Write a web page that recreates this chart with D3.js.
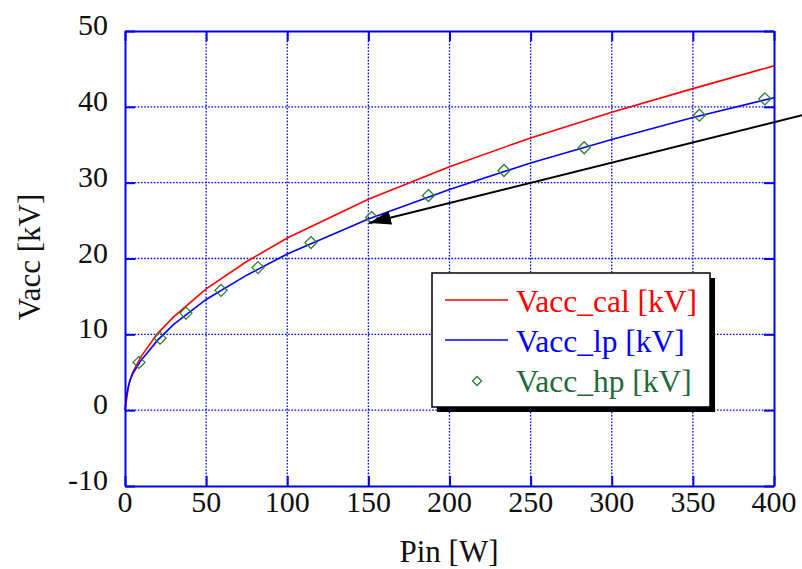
<!DOCTYPE html>
<html>
<head>
<meta charset="utf-8">
<script src="https://cdn.jsdelivr.net/npm/d3@7"></script>
<style>
  html, body { margin: 0; padding: 0; background: #fff; }
  svg { display: block; font-family: "Liberation Serif", "Times New Roman", serif; }
</style>
</head>
<body>
<svg id="chart" width="802" height="569"></svg>
<script>
// ---- data ----
const pinCal = [0, 1, 2, 3, 5, 10, 20, 30, 50, 75, 100, 150, 200, 250, 300, 350, 400];
const vaccCal = [0, 1.5, 3.0, 3.9, 5.1, 7.1, 10.1, 12.3, 16.0, 19.6, 22.7, 27.8, 32.1, 35.9, 39.3, 42.4, 45.4];
const pinLp = [0, 0.5, 1, 2, 3, 5, 10, 20, 30, 50, 75, 100, 150, 200, 250, 300, 350, 400];
const vaccLp = [0, 1.0, 2.0, 3.0, 3.9, 4.9, 6.6, 9.2, 11.3, 14.6, 17.8, 20.6, 25.2, 29.1, 32.6, 35.7, 38.6, 41.2];
const pinHp = [8.6, 21.6, 37.6, 59.2, 82, 114.6, 152, 187, 233.6, 283, 354, 394.4];
const vaccHp = [6.3, 9.5, 12.8, 15.8, 18.8, 22.1, 25.4, 28.3, 31.6, 34.6, 38.9, 41.05];
const xTicks = [0, 50, 100, 150, 200, 250, 300, 350, 400];
const yTicks = [-10, 0, 10, 20, 30, 40, 50];
const legendLabels = ["Vacc_cal [kV]", "Vacc_lp [kV]", "Vacc_hp [kV]"];
const xTitle = "Pin [W]";
const yTitle = "Vacc [kV]";

// ---- layout ----
const svg = d3.select("#chart");
const L = 125, R = 774, T = 31, B = 486;
const x = d3.scaleLinear().domain([0, 400]).range([L, R]);
const y = d3.scaleLinear().domain([-10, 50]).range([B, T]);
const BLUE = "#0000ff", RED = "#ff0000", GREEN = "#2e7d32";

// grid (dotted)
const grid = svg.append("g");
grid.selectAll("line.gx").data(xTicks.slice(1, -1)).join("line")
  .attr("x1", d => x(d)).attr("x2", d => x(d)).attr("y1", T).attr("y2", B)
  .attr("stroke", BLUE).attr("stroke-width", 1.3).attr("stroke-dasharray", "1.6,1.6");
grid.selectAll("line.gy").data(yTicks.slice(1, -1)).join("line")
  .attr("x1", L).attr("x2", R).attr("y1", d => y(d)).attr("y2", d => y(d))
  .attr("stroke", BLUE).attr("stroke-width", 1.3).attr("stroke-dasharray", "1.6,1.6");

// axes with inner ticks
const axB = svg.append("g").attr("transform", `translate(0,${B})`)
  .call(d3.axisBottom(x).tickValues(xTicks).tickSizeInner(-10).tickSizeOuter(0).tickFormat(""));
const axL = svg.append("g").attr("transform", `translate(${L},0)`)
  .call(d3.axisLeft(y).tickValues(yTicks).tickSizeInner(-10).tickSizeOuter(0).tickFormat(""));
const axR = svg.append("g").attr("transform", `translate(${R},0)`)
  .call(d3.axisRight(y).tickValues(yTicks).tickSizeInner(-10).tickSizeOuter(0).tickFormat(""));
const axT = svg.append("g").attr("transform", `translate(0,${T})`)
  .call(d3.axisTop(x).tickValues(xTicks).tickSizeInner(-10).tickSizeOuter(0).tickFormat(""));
[axB, axL, axR, axT].forEach(a => {
  a.selectAll("path").attr("stroke", BLUE).attr("stroke-width", 2);
  a.selectAll("line").attr("stroke", BLUE).attr("stroke-width", 2);
});

// tick labels
svg.append("g").selectAll("text").data(yTicks).join("text")
  .attr("x", 108).attr("y", d => y(d) + 4).attr("text-anchor", "end")
  .attr("font-size", 30).attr("fill", "#111").text(d => d);
svg.append("g").selectAll("text").data(xTicks).join("text")
  .attr("x", d => x(d)).attr("y", 512).attr("text-anchor", "middle")
  .attr("font-size", 30).attr("fill", "#111").text(d => d);

// axis titles
svg.append("text").attr("x", 449).attr("y", 562).attr("text-anchor", "middle")
  .attr("font-size", 31).attr("fill", "#111").text(xTitle);
svg.append("text").attr("transform", "translate(40,257) rotate(-90)").attr("text-anchor", "middle")
  .attr("font-size", 31).attr("fill", "#111").text(yTitle);

// series
const line = d3.line().x(d => x(d[0])).y(d => y(d[1]));
svg.append("path").datum(d3.zip(pinCal, vaccCal)).attr("d", line)
  .attr("fill", "none").attr("stroke", RED).attr("stroke-width", 1.6);
svg.append("path").datum(d3.zip(pinLp, vaccLp)).attr("d", line)
  .attr("fill", "none").attr("stroke", BLUE).attr("stroke-width", 1.6);
const diamond = (cx, cy, r) => `M${cx},${cy - r}L${cx + r},${cy}L${cx},${cy + r}L${cx - r},${cy}Z`;
svg.append("g").selectAll("path").data(d3.zip(pinHp, vaccHp)).join("path")
  .attr("d", d => diamond(x(d[0]), y(d[1]), 6))
  .attr("fill", "none").attr("stroke", GREEN).attr("stroke-width", 1.3);

// arrow annotation
const defs = svg.append("defs");
defs.append("marker").attr("id", "ah").attr("viewBox", "0 0 22 14")
  .attr("refX", 22).attr("refY", 7).attr("markerWidth", 22).attr("markerHeight", 14)
  .attr("markerUnits", "userSpaceOnUse").attr("orient", "auto")
  .append("path").attr("d", "M0,0L22,7L0,14Z").attr("fill", "#000");
svg.append("line").attr("x1", 803).attr("y1", 115).attr("x2", 369).attr("y2", 223)
  .attr("stroke", "#000").attr("stroke-width", 2).attr("marker-end", "url(#ah)");

// legend
const lg = { x: 432, y: 273, w: 278, h: 134 };
svg.append("rect").attr("x", lg.x + 5).attr("y", lg.y + 5).attr("width", lg.w).attr("height", lg.h).attr("fill", "#000");
svg.append("rect").attr("x", lg.x).attr("y", lg.y).attr("width", lg.w).attr("height", lg.h)
  .attr("fill", "#fff").attr("stroke", "#000").attr("stroke-width", 1.5);
const legColors = [RED, BLUE, GREEN];
legendLabels.forEach((lab, i) => {
  const cy = 300 + i * 40;
  if (i < 2) {
    svg.append("line").attr("x1", 445).attr("x2", 508).attr("y1", cy).attr("y2", cy)
      .attr("stroke", legColors[i]).attr("stroke-width", 1.6);
  } else {
    svg.append("path").attr("d", diamond(477, cy + 1, 4.5)).attr("fill", "none")
      .attr("stroke", GREEN).attr("stroke-width", 1.3);
  }
  svg.append("text").attr("x", 516).attr("y", cy + 12)
    .attr("font-size", 31.5)
    .attr("fill", i === 2 ? "#1f6b3a" : legColors[i]).text(lab);
});
</script>
</body>
</html>
